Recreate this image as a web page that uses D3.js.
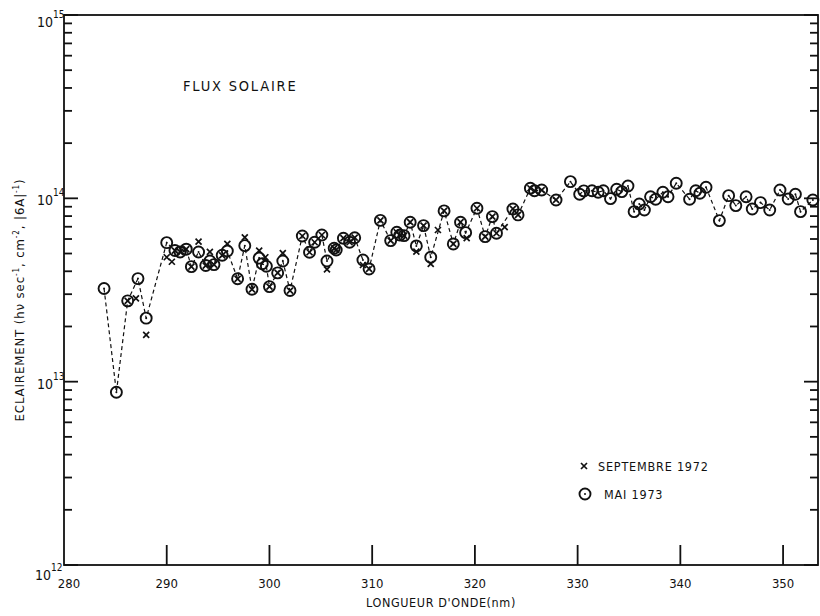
<!DOCTYPE html>
<html>
<head>
<meta charset="utf-8">
<script src="https://cdn.jsdelivr.net/npm/d3@7"></script>
<style>
  body { margin: 0; background: #fff; }
  svg text { font-family: "DejaVu Sans Condensed", "DejaVu Sans", sans-serif; fill: #111; }
</style>
</head>
<body>
<svg id="chart" width="820" height="616"></svg>
<script>
// MAI 1973 (circles, joined by the dashed line)
const mayNm = [283.9, 285.1, 286.2, 287.2, 288.0, 290.0, 290.8, 291.3, 291.9, 292.4,
  293.1, 293.8, 294.2, 294.6, 295.4, 295.9, 296.9, 297.6, 298.3, 299.0,
  299.3, 299.7, 300.0, 300.8, 301.3, 302.0, 303.2, 303.9, 304.4, 305.1,
  305.6, 306.3, 306.5, 307.2, 307.8, 308.3, 309.1, 309.7, 310.8, 311.8,
  312.4, 312.7, 313.1, 313.7, 314.3, 315.0, 315.7, 317.0, 317.9, 318.6,
  319.1, 320.2, 321.0, 321.7, 322.1, 323.7, 324.2, 325.4, 325.8, 326.5,
  327.9, 329.3, 330.2, 330.6, 331.4, 332.0, 332.5, 333.2, 333.8, 334.3,
  334.9, 335.5, 336.0, 336.5, 337.1, 337.6, 338.3, 338.8, 339.6, 340.9,
  341.5, 341.9, 342.5, 343.8, 344.7, 345.4, 346.4, 347.0, 347.8, 348.7,
  349.7, 350.5, 351.2, 351.7, 352.9];
const mayVal = [3.22e13, 8.75e12, 2.76e13, 3.65e13, 2.22e13, 5.73e13, 5.19e13, 5.10e13, 5.28e13, 4.24e13,
  5.10e13, 4.30e13, 4.55e13, 4.35e13, 4.89e13, 5.16e13, 3.64e13, 5.52e13, 3.19e13, 4.72e13,
  4.40e13, 4.26e13, 3.30e13, 3.92e13, 4.55e13, 3.14e13, 6.23e13, 5.08e13, 5.76e13, 6.31e13,
  4.55e13, 5.34e13, 5.23e13, 6.06e13, 5.76e13, 6.10e13, 4.61e13, 4.12e13, 7.58e13, 5.88e13,
  6.53e13, 6.31e13, 6.26e13, 7.41e13, 5.50e13, 7.10e13, 4.77e13, 8.54e13, 5.64e13, 7.41e13,
  6.50e13, 8.83e13, 6.18e13, 7.95e13, 6.45e13, 8.75e13, 8.12e13, 1.135e14, 1.10e14, 1.11e14,
  9.80e13, 1.233e14, 1.053e14, 1.098e14, 1.10e14, 1.08e14, 1.10e14, 9.96e13, 1.121e14, 1.088e14,
  1.168e14, 8.46e13, 9.32e13, 8.64e13, 1.02e14, 9.89e13, 1.08e14, 1.02e14, 1.209e14, 9.89e13,
  1.10e14, 1.066e14, 1.15e14, 7.56e13, 1.034e14, 9.13e13, 1.02e14, 8.75e13, 9.48e13, 8.64e13,
  1.11e14, 9.92e13, 1.053e14, 8.46e13, 9.8e13];

// SEPTEMBRE 1972 (crosses)
const septNm = [286.2, 287.0, 288.0, 290.0, 290.5, 290.8, 291.3, 291.9, 292.4, 293.1,
  293.8, 294.2, 294.6, 295.4, 295.9, 296.9, 297.6, 298.3, 299.0, 299.6,
  300.0, 300.8, 301.3, 302.0, 303.2, 303.9, 304.4, 305.1, 305.6, 306.3,
  306.5, 307.2, 307.8, 308.3, 309.1, 309.7, 310.8, 311.8, 312.4, 312.7,
  313.1, 313.7, 314.3, 315.0, 315.7, 316.4, 317.0, 317.9, 318.6, 319.2,
  320.2, 321.0, 321.7, 322.1, 322.9, 323.7, 324.2, 325.4, 325.8, 326.5, 327.9];
const septVal = [2.76e13, 2.85e13, 1.80e13, 4.77e13, 4.51e13, 5.19e13, 5.10e13, 5.28e13, 4.24e13, 5.80e13,
  4.30e13, 5.10e13, 4.35e13, 4.89e13, 5.64e13, 3.64e13, 6.12e13, 3.19e13, 5.19e13, 4.77e13,
  3.30e13, 3.92e13, 5.02e13, 3.14e13, 6.23e13, 5.08e13, 5.76e13, 6.31e13, 4.10e13, 5.34e13,
  5.23e13, 6.06e13, 5.76e13, 6.10e13, 4.33e13, 4.12e13, 7.58e13, 5.88e13, 6.53e13, 6.31e13,
  6.26e13, 7.41e13, 5.12e13, 7.10e13, 4.39e13, 6.72e13, 8.54e13, 5.64e13, 7.41e13, 6.06e13,
  8.83e13, 6.18e13, 7.95e13, 6.45e13, 6.96e13, 8.75e13, 8.12e13, 1.135e14, 1.10e14, 1.11e14, 9.80e13];

const xTicks = [280, 290, 300, 310, 320, 330, 340, 350];
const yDecades = [12, 13, 14, 15];
const legendLabels = ["SEPTEMBRE 1972", "MAI 1973"];

const svg = d3.select("#chart");
const plot = {left: 64, right: 818, top: 15, bottom: 565};

const x = d3.scaleLinear().domain([280, 353.4]).range([plot.left, plot.right]);
const y = d3.scaleLog().domain([1e12, 1e15]).range([plot.bottom, plot.top]);

// y ticks: 1..9 of each decade, decades get longer ticks
const yTickVals = [];
[12, 13, 14].forEach(e => { for (let k = 1; k <= 9; k++) yTickVals.push(k * Math.pow(10, e)); });
yTickVals.push(1e15);
const isMajor = v => Math.abs(Math.log10(v) - Math.round(Math.log10(v))) < 1e-9;
const tickW = 1.8;

// tick marks as thin rects, pointing inward
const tg = svg.append("g").attr("fill", "#111");
tg.selectAll("rect.xt").data(xTicks.slice(1)).join("rect")
  .attr("class", "xt")
  .attr("x", d => x(d) - tickW / 2).attr("y", plot.bottom - 20)
  .attr("width", tickW).attr("height", 20);
tg.selectAll("rect.yl").data(yTickVals).join("rect")
  .attr("class", "yl")
  .attr("x", plot.left).attr("y", d => y(d) - tickW / 2)
  .attr("width", d => isMajor(d) ? 14 : 8).attr("height", tickW);
tg.selectAll("rect.yr").data(yTickVals).join("rect")
  .attr("class", "yr")
  .attr("x", d => plot.right - (isMajor(d) ? 14 : 8)).attr("y", d => y(d) - tickW / 2)
  .attr("width", d => isMajor(d) ? 14 : 8).attr("height", tickW);

// x tick labels
svg.append("g").selectAll("text").data(xTicks).join("text")
  .attr("x", d => x(d) + (d === 280 ? 5 : 0))
  .attr("y", plot.bottom + 23)
  .attr("text-anchor", "middle")
  .attr("font-size", 13)
  .text(d => d);

// frame
svg.append("rect")
  .attr("x", plot.left).attr("y", plot.top)
  .attr("width", plot.right - plot.left).attr("height", plot.bottom - plot.top)
  .attr("fill", "none").attr("stroke", "#111").attr("stroke-width", 1.8);

// decade labels 10^n
const yl = svg.append("g");
yDecades.forEach(e => {
  const off = e === 15 ? 12 : (e === 12 ? 15 : 7);
  const t = yl.append("text")
    .attr("x", e === 12 ? 35 : 37)
    .attr("y", y(Math.pow(10, e)) + off)
    .attr("font-size", 14);
  t.append("tspan").text("10");
  t.append("tspan").attr("font-size", 10).attr("dy", -9).text(e);
});

// y label
const ylab = svg.append("text")
  .attr("transform", "translate(24,300) rotate(-90)")
  .attr("text-anchor", "middle")
  .attr("font-size", 13)
  .attr("letter-spacing", 0.9);
ylab.append("tspan").text("ECLAIREMENT (hν sec");
ylab.append("tspan").attr("font-size", 8).attr("dy", -5).text("-1");
ylab.append("tspan").attr("dy", 5).text(", cm");
ylab.append("tspan").attr("font-size", 8).attr("dy", -5).text("-2");
ylab.append("tspan").attr("dy", 5).text(", |6A|");
ylab.append("tspan").attr("font-size", 8).attr("dy", -5).text("-1");
ylab.append("tspan").attr("dy", 5).text(")");

// x label
svg.append("text")
  .attr("x", 441).attr("y", 607)
  .attr("text-anchor", "middle")
  .attr("font-size", 12.5)
  .attr("letter-spacing", 0.6)
  .text("LONGUEUR D'ONDE(nm)");

// title
svg.append("text")
  .attr("x", 183).attr("y", 91)
  .attr("font-size", 14.5)
  .attr("letter-spacing", 1.8)
  .text("FLUX SOLAIRE");

const may = mayNm.map((d, i) => ({nm: d, v: mayVal[i]}));
const sept = septNm.map((d, i) => ({nm: d, v: septVal[i]}));

// dashed line
const line = d3.line().x(d => x(d.nm)).y(d => y(d.v));
svg.append("path")
  .datum(may)
  .attr("d", line)
  .attr("fill", "none")
  .attr("stroke", "#111")
  .attr("stroke-width", 1.2)
  .attr("stroke-dasharray", "4,3");

function cross(g, cx, cy) {
  const s = 3;
  g.append("path")
    .attr("d", `M${cx - s},${cy - s}L${cx + s},${cy + s}M${cx - s},${cy + s}L${cx + s},${cy - s}`)
    .attr("stroke", "#111").attr("stroke-width", 1.7).attr("fill", "none");
}
function ring(g, cx, cy) {
  g.append("circle").attr("cx", cx).attr("cy", cy).attr("r", 5.5)
    .attr("fill", "none").attr("stroke", "#111").attr("stroke-width", 1.9);
  g.append("circle").attr("cx", cx).attr("cy", cy).attr("r", 1).attr("fill", "#111");
}

const gs = svg.append("g");
sept.forEach(d => cross(gs, x(d.nm), y(d.v)));
const gm = svg.append("g");
may.forEach(d => ring(gm, x(d.nm), y(d.v)));

// legend
const lg = svg.append("g");
cross(lg, 584, 466);
ring(lg, 585, 494);
lg.append("text").attr("x", 598).attr("y", 471).attr("font-size", 12.5)
  .attr("letter-spacing", 0.8).text(legendLabels[0]);
lg.append("text").attr("x", 604).attr("y", 499).attr("font-size", 12.5)
  .attr("letter-spacing", 0.8).text(legendLabels[1]);
</script>
</body>
</html>
